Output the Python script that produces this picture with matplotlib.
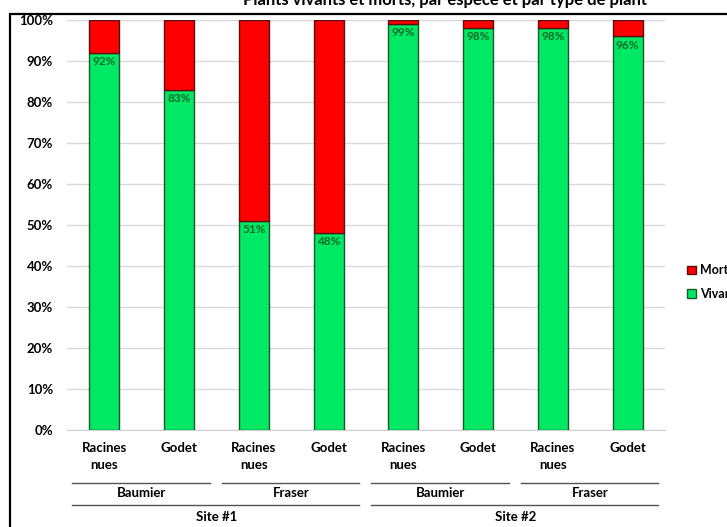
import matplotlib.pyplot as plt
import numpy as np
from matplotlib.patches import Rectangle

plt.rcParams['font.family'] = ['Lato', 'DejaVu Sans']
plt.rcParams['font.weight'] = 'bold'

types = ["Racines\nnues", "Godet", "Racines\nnues", "Godet",
         "Racines\nnues", "Godet", "Racines\nnues", "Godet"]
especes = ["Baumier", "Fraser", "Baumier", "Fraser"]
sites = ["Site #1", "Site #2"]
vivant = np.array([92, 83, 51, 48, 99, 98, 98, 96])
mort = 100 - vivant

vert = "#00e864"
rouge = "#ff0000"

fig = plt.figure(figsize=(7.27, 5.27), dpi=100)
ax = fig.add_axes([67 / 727, 1 - 430 / 527, 598 / 727, 410 / 527])

x = np.arange(len(vivant))
b1 = ax.bar(x, vivant, width=0.4, color=vert, edgecolor="#1a5a2a", linewidth=1, label="Vivant", zorder=3)
b2 = ax.bar(x, mort, width=0.4, bottom=vivant, color=rouge, edgecolor="#5a1010", linewidth=1, label="Mort", zorder=3)

for xi, v in zip(x, vivant):
    ax.text(xi, v - 0.8, f"{v}%", ha="center", va="top", fontsize=8.5, color="#0b6b2a", fontweight="bold", zorder=4)

ax.set_xlim(-0.5, 7.5)
ax.set_ylim(0, 100)
ax.set_yticks(np.arange(0, 101, 10))
ax.set_yticklabels([f"{t}%" for t in range(0, 101, 10)], fontsize=9.5)
ax.yaxis.grid(True, color="#d9d9d9", linewidth=1, zorder=0)
ax.tick_params(axis="y", length=0, pad=10)
ax.set_xticks([])
for s in ["top", "right", "left"]:
    ax.spines[s].set_visible(False)
ax.spines["bottom"].set_color("#d0d0d0")

# etiquettes de categories sur trois niveaux
def ypx(p):
    return -(p - 430) / 410

trans = ax.get_xaxis_transform()
for xi, t in zip(x, types):
    ax.text(xi, ypx(442), t, ha="center", va="top", fontsize=9.5, linespacing=1.5, transform=trans)

for i, e in enumerate(especes):
    x0, x1 = 2 * i - 0.43, 2 * i + 1.41
    ax.plot([x0, x1], [ypx(483), ypx(483)], color="#555555", lw=1, transform=trans, clip_on=False)
    ax.text(2 * i + 0.5, ypx(493), e, ha="center", va="center", fontsize=9.5, transform=trans)

for i, s in enumerate(sites):
    x0, x1 = 4 * i - 0.43, 4 * i + 3.41
    ax.plot([x0, x1], [ypx(505), ypx(505)], color="#555555", lw=1, transform=trans, clip_on=False)
    ax.text(4 * i + 1.5, ypx(517), s, ha="center", va="center", fontsize=9.5, transform=trans)

fig.legend([b2, b1], ["Mort", "Vivant"], loc="center left", bbox_to_anchor=(676 / 727, 1 - 282 / 527),
           frameon=False, fontsize=9, handlelength=0.7, handleheight=0.7, handletextpad=0.3, labelspacing=0.9)

fig.text(445 / 727, 1 - 8 / 527, "Plants vivants et morts, par espèce et par type de plant",
         ha="center", va="bottom", fontsize=12, fontweight="bold")

fig.patches.append(Rectangle((10 / 727, -0.05), 1.2, 1 - 14 / 527 + 0.05, transform=fig.transFigure,
                             fill=False, edgecolor="black", linewidth=1.6))

fig.savefig("out.png", dpi=100)
